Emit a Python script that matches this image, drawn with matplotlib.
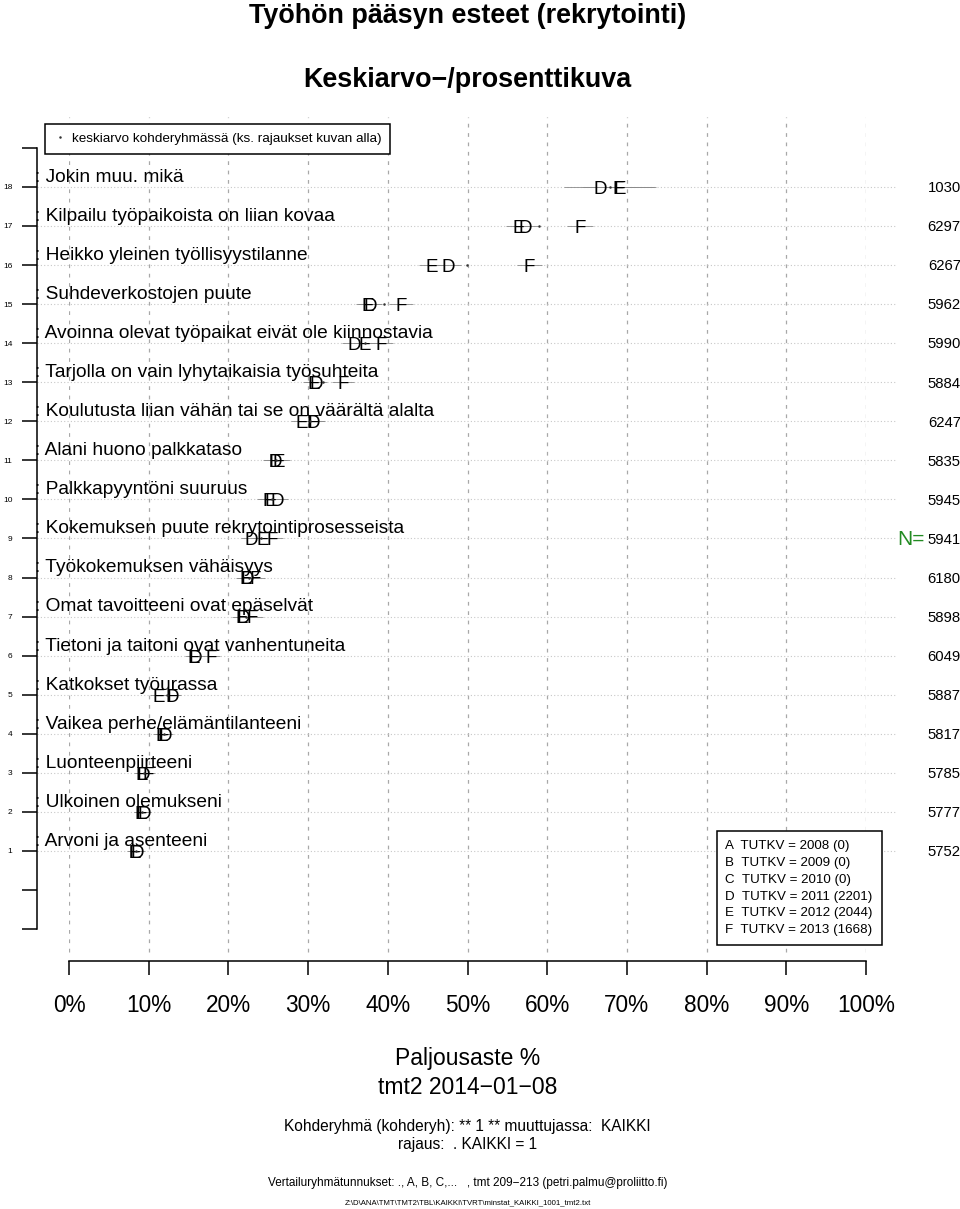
import matplotlib
matplotlib.use('Agg')
import matplotlib.pyplot as plt
from matplotlib.lines import Line2D

plt.rcParams['font.family'] = ['Liberation Sans', 'DejaVu Sans']

# ---------------- data (rows 1..18, bottom to top) ----------------
labels = [
    "Arvoni ja asenteeni",
    "Ulkoinen olemukseni",
    "Luonteenpiirteeni",
    "Vaikea perhe/elämäntilanteeni",
    "Katkokset työurassa",
    "Tietoni ja taitoni ovat vanhentuneita",
    "Omat tavoitteeni ovat epäselvät",
    "Työkokemuksen vähäisyys",
    "Kokemuksen puute rekrytointiprosesseista",
    "Palkkapyyntöni suuruus",
    "Alani huono palkkataso",
    "Koulutusta liian vähän tai se on väärältä alalta",
    "Tarjolla on vain lyhytaikaisia työsuhteita",
    "Avoinna olevat työpaikat eivät ole kiinnostavia",
    "Suhdeverkostojen puute",
    "Heikko yleinen työllisyystilanne",
    "Kilpailu työpaikoista on liian kovaa",
    "Jokin muu. mikä",
]
n_values = [5752, 5777, 5785, 5817, 5887, 6049, 5898, 6180, 5941,
            5945, 5835, 6247, 5884, 5990, 5962, 6267, 6297, 1030]
grp_D = [8.6, 9.4, 9.3, 12.1, 12.9, 15.9, 21.9, 22.4, 22.9,
         26.1, 25.9, 30.7, 31.0, 35.8, 37.8, 47.6, 57.3, 66.6]
grp_E = [8.3, 9.0, 9.1, 11.6, 11.2, 15.6, 21.7, 22.2, 24.3,
         25.3, 26.3, 29.2, 30.7, 37.1, 37.5, 45.5, 56.4, 69.1]
grp_F = [8.2, 9.1, 9.95, 11.8, 13.0, 17.9, 23.0, 23.3, 25.5,
         25.0, 25.7, 30.6, 34.4, 39.2, 41.7, 57.8, 64.1, 68.9]
means = [8.4, 9.2, 9.4, 11.9, 12.3, 16.4, 22.2, 22.6, 24.1,
         25.5, 26.0, 30.2, 31.9, 37.2, 39.5, 49.9, 59.0, 67.9]
ci_half = [0.9, 0.9, 0.9, 1.0, 1.0, 1.1, 1.3, 1.3, 1.3,
           1.4, 1.4, 1.4, 1.4, 1.5, 1.5, 1.6, 1.6, 4.5]
legend_groups = ['A', 'B', 'C', 'D', 'E', 'F']
legend_years = [2008, 2009, 2010, 2011, 2012, 2013]
legend_counts = [0, 0, 0, 2201, 2044, 1668]
x_ticks = [0, 10, 20, 30, 40, 50, 60, 70, 80, 90, 100]
x_tick_labels = ['0%', '10%', '20%', '30%', '40%', '50%', '60%',
                 '70%', '80%', '90%', '100%']
row_ids = list(range(1, 19))

# ---------------- figure ----------------
W, H = 960, 1209
fig = plt.figure(figsize=(W / 100, H / 100), dpi=100)
ax = fig.add_axes([69 / W, (H - 961) / H, 797 / W, (961 - 108.8) / H])
ax.set_xlim(0, 100)
ax.set_ylim(-1.818, 20.0)
ax.patch.set_visible(False)

for s in ('top', 'right'):
    ax.spines[s].set_visible(False)
ax.spines['left'].set_position(('data', -4.0))
ax.spines['left'].set_bounds(-1, 19)
ax.spines['bottom'].set_bounds(0, 100)
for s in ('left', 'bottom'):
    ax.spines[s].set_linewidth(1.1)

yt = list(range(-1, 20))
ax.set_yticks(yt, [str(i) if 1 <= i <= 18 else '' for i in yt])
ax.tick_params(axis='y', length=10.8, width=1.1, labelsize=6, pad=7)
ax.set_xticks(x_ticks, x_tick_labels)
ax.tick_params(axis='x', length=10, width=1.1, labelsize=16.3, pad=13.5)

# grid
ax.vlines(x_ticks, -1.585, 19.8, colors='#a8a8a8', linestyles=(0, (3, 4.5)),
          lw=0.9, zorder=0)
ax.hlines(row_ids, -4.0, 103.7, colors='#c8c8c8', linestyles=(0, (1, 2)),
          lw=0.8, zorder=0, clip_on=False)

# row labels
for r, lab in zip(row_ids, labels):
    ax.text(-4.3, r + 0.13, ': ' + lab, fontsize=13.8, ha='left',
            va='baseline', zorder=3)

# confidence segments and group letters
for g, vals in zip(['D', 'E', 'F'], [grp_D, grp_E, grp_F]):
    ax.hlines(row_ids, [v - c for v, c in zip(vals, ci_half)],
              [v + c for v, c in zip(vals, ci_half)],
              colors='#8a8a8a', lw=0.6, zorder=2)
for g, vals in zip(['D', 'E', 'F'], [grp_D, grp_E, grp_F]):
    for r, v in zip(row_ids, vals):
        ax.text(v, r - 0.176, g, fontsize=13.5, ha='center', va='baseline',
                zorder=4)

mean_line, = ax.plot(means, row_ids, ls='none', marker='o', ms=0.8,
                     color='#333333', zorder=5,
                     label='keskiarvo kohderyhmässä (ks. rajaukset kuvan alla)')

# N column
for r, n in zip(row_ids, n_values):
    ax.text(111.9, r - 0.136, str(n), fontsize=10.7, ha='right',
            va='baseline')
ax.text(107.4, 9 - 0.17, 'N=', fontsize=15, ha='right', va='baseline',
        color='#228B22')

# legends
leg1 = ax.legend(handles=[mean_line], loc='upper left',
                 bbox_to_anchor=(45 / W, 1 - 124 / H),
                 bbox_transform=fig.transFigure, fontsize=9.7,
                 frameon=True, fancybox=False, edgecolor='black',
                 framealpha=1, handlelength=1.0, handletextpad=0.35,
                 borderpad=0.65, borderaxespad=0)
leg1.get_frame().set_linewidth(1.1)
ax.add_artist(leg1)

h2 = [Line2D([], [], ls='none') for _ in legend_groups]
l2 = [f'{g}  TUTKV = {y} ({c})' for g, y, c in
      zip(legend_groups, legend_years, legend_counts)]
leg2 = ax.legend(handles=h2, labels=l2, loc='upper left',
                 bbox_to_anchor=(716.7 / W, 1 - 831 / H),
                 bbox_transform=fig.transFigure, fontsize=9.6,
                 frameon=True, fancybox=False, edgecolor='black',
                 framealpha=1, handlelength=0, handletextpad=0,
                 labelspacing=0.34, borderpad=0.65, borderaxespad=0)
leg2.get_frame().set_linewidth(1.1)

# titles and footers
cx = 467.5 / W
fig.text(cx, 1 - 16 / H, 'Työhön pääsyn esteet (rekrytointi)', fontsize=19.4,
         fontweight='bold', ha='center', va='center')
fig.text(cx, 1 - 80 / H, 'Keskiarvo\u2212/prosenttikuva', fontsize=19.4,
         fontweight='bold', ha='center', va='center')
fig.text(cx, 1 - 1058 / H, 'Paljousaste %', fontsize=16.5, ha='center',
         va='center')
fig.text(cx, 1 - 1087 / H, 'tmt2 2014\u221201\u221208', fontsize=16.5,
         ha='center', va='center')
fig.text(cx, 1 - 1126 / H,
         'Kohderyhmä (kohderyh): ** 1 ** muuttujassa:  KAIKKI', fontsize=11.2,
         ha='center', va='center')
fig.text(cx, 1 - 1145 / H, 'rajaus:  . KAIKKI = 1', fontsize=11.2,
         ha='center', va='center')
fig.text(cx, 1 - 1183 / H,
         'Vertailuryhmätunnukset: ., A, B, C,...   , tmt 209\u2212213 '
         '(petri.palmu@proliitto.fi)', fontsize=8.5, ha='center', va='center')
fig.text(cx, 1 - 1203 / H,
         'Z:\\D\\ANA\\TMT\\TMT2\\TBL\\KAIKKI\\TVRT\\minstat_KAIKKI_1001_tmt2.txt',
         fontsize=5.6, ha='center', va='center')

fig.savefig('out.png', dpi=100)
